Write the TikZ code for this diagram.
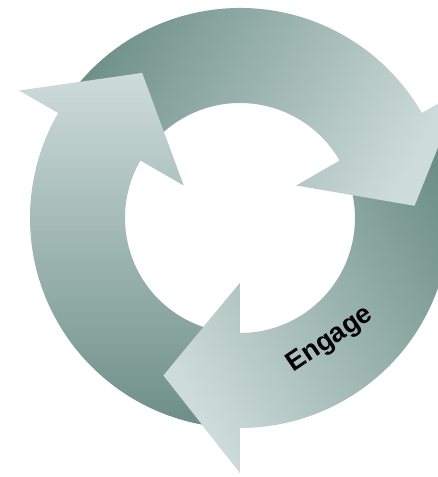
\documentclass[tikz,border=0pt]{standalone}
\usepackage{fontspec}
\setmainfont{Liberation Sans}
\usetikzlibrary{calc}

\definecolor{ringdark}{RGB}{108,142,134}
\definecolor{ringlight}{RGB}{206,220,217}

\tikzset{
	cyclearrow/.style={top color=ringlight, bottom color=ringdark, shading angle=#1},
	ringlabel/.style={font=\bfseries\fontsize{27}{30}\selectfont, text=black}
}

\newcommand{\cyclearrowpath}[1]{({#1+120}:210) arc[start angle={#1+120}, end angle=#1, radius=210] -- (#1:255) -- ({#1-26}:175) -- (#1:65) -- (#1:115) arc[start angle=#1, end angle={#1+120}, radius=115] -- cycle}

\begin{document}
\begin{tikzpicture}[x=1pt, y=1pt]
	\useasboundingbox (-240,-259) rectangle (198,218);
	\clip (-240,-259) rectangle (198,218);
	
	\shade[cyclearrow=120] \cyclearrowpath{270};
	\shade[cyclearrow=-120] \cyclearrowpath{30};
	\shade[cyclearrow=0] \cyclearrowpath{150};
	
	\begin{scope}
		\clip (270:256) -- (244:176) -- (270:64) -- cycle;
		\shade[cyclearrow=120] \cyclearrowpath{270};
	\end{scope}
	
	\node[ringlabel, rotate=34] (engage) at (-53.5:152) {Engage};
\end{tikzpicture}
\end{document}
